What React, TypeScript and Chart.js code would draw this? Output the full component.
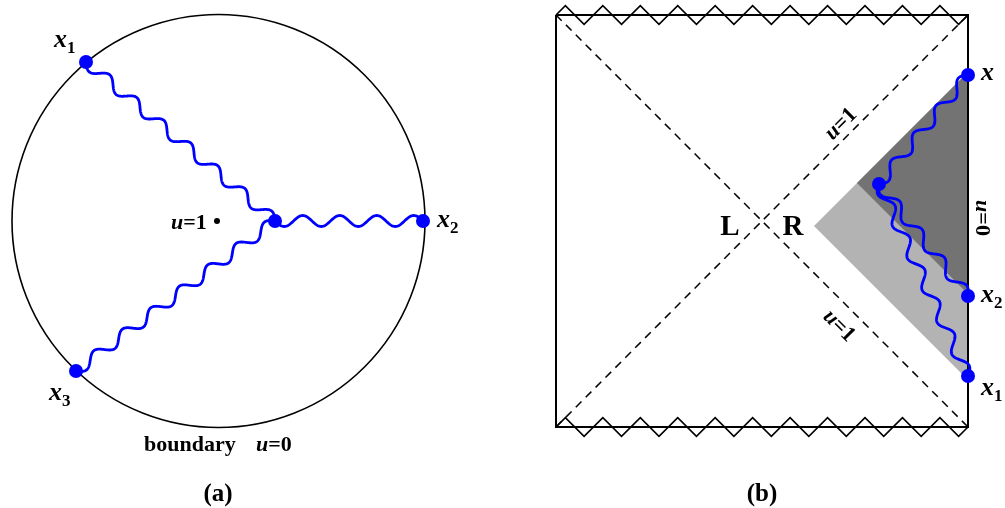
import React, { useEffect, useRef } from 'react';
import { Chart, registerables } from 'chart.js';

Chart.register(...registerables);

// ---------- Panel (a): disc with three boundary points ----------
const circleCenterX = 218.5;
const circleCenterY = 221;
const circleRadius = 206.5;
const aEndX = [86, 423, 76]; // x1, x2, x3
const aEndY = [62, 221, 371];
const aJunctionX = 275;
const aJunctionY = 221;
const aWavePeriods = [7, 4, 7];
const aMarkX = [217];
const aMarkY = [221];

// ---------- Panel (b): Penrose-like square ----------
const bSquareX = [556, 968, 968, 556, 556];
const bSquareY = [15, 15, 427, 427, 15];
const bDiagDownX = [556, 968];
const bDiagDownY = [15, 427];
const bDiagUpX = [556, 968];
const bDiagUpY = [427, 15];
const bLightX = [814, 968, 968, 814];
const bLightY = [226, 72, 380, 226];
const bDarkX = [857, 968, 968, 857];
const bDarkY = [183, 72, 294, 183];
const bEndX = [968, 968, 968]; // x, x2, x1
const bEndY = [75, 296, 376];
const bJunctionX = 879;
const bJunctionY = 184;
const bWavePeriods = [4, 4, 6];
const zigzagTeeth = 11;

type Part = { t: string; italic?: boolean; sub?: boolean };
type Note = { parts: Part[]; x: number; y: number; size: number; align: 'left' | 'center'; rot?: number };

const annotations: Note[] = [
  { parts: [{ t: 'x', italic: true }, { t: '1', sub: true }], x: 54, y: 47, size: 26, align: 'left' },
  { parts: [{ t: 'x', italic: true }, { t: '2', sub: true }], x: 437, y: 227, size: 26, align: 'left' },
  { parts: [{ t: 'x', italic: true }, { t: '3', sub: true }], x: 49, y: 400, size: 26, align: 'left' },
  { parts: [{ t: 'u', italic: true }, { t: '=1' }], x: 171, y: 229, size: 22, align: 'left' },
  { parts: [{ t: 'boundary' }], x: 144, y: 451, size: 22, align: 'left' },
  { parts: [{ t: 'u', italic: true }, { t: '=0' }], x: 256, y: 451, size: 22, align: 'left' },
  { parts: [{ t: '(a)' }], x: 218, y: 501, size: 25, align: 'center' },
  { parts: [{ t: 'x', italic: true }], x: 981, y: 80, size: 26, align: 'left' },
  { parts: [{ t: 'x', italic: true }, { t: '2', sub: true }], x: 981, y: 302, size: 26, align: 'left' },
  { parts: [{ t: 'x', italic: true }, { t: '1', sub: true }], x: 981, y: 395, size: 26, align: 'left' },
  { parts: [{ t: 'L' }], x: 730, y: 235, size: 29, align: 'center' },
  { parts: [{ t: 'R' }], x: 793, y: 235, size: 29, align: 'center' },
  { parts: [{ t: 'u', italic: true }, { t: '=1' }], x: 840, y: 123, size: 22, align: 'center', rot: -45 },
  { parts: [{ t: 'u', italic: true }, { t: '=1' }], x: 840, y: 325, size: 22, align: 'center', rot: 45 },
  { parts: [{ t: 'u', italic: true }, { t: '=0' }], x: 983, y: 218, size: 22, align: 'center', rot: 90 },
  { parts: [{ t: '(b)' }], x: 762, y: 501, size: 25, align: 'center' },
];

const FONT = '"Liberation Serif", "DejaVu Serif", serif';
const BLUE = 'rgb(0, 0, 255)';

const pts = (xs: number[], ys: number[]) => xs.map((x, i) => ({ x, y: ys[i] }));

function fontFor(p: Part, size: number) {
  const s = p.sub ? Math.round(size * 0.66) : size;
  return `${p.italic ? 'italic ' : ''}bold ${s}px ${FONT}`;
}

function drawRich(ctx: CanvasRenderingContext2D, n: Note, px: number, py: number) {
  ctx.save();
  ctx.fillStyle = '#000';
  ctx.textBaseline = 'alphabetic';
  ctx.textAlign = 'left';
  let total = 0;
  const widths = n.parts.map((p) => {
    ctx.font = fontFor(p, n.size);
    const w = ctx.measureText(p.t).width;
    total += w;
    return w;
  });
  ctx.translate(px, py);
  let x = 0;
  let yBase = 0;
  if (n.rot !== undefined) {
    ctx.rotate((n.rot * Math.PI) / 180);
    yBase = n.size * 0.33;
  }
  if (n.align === 'center') x = -total / 2;
  n.parts.forEach((p, i) => {
    ctx.font = fontFor(p, n.size);
    ctx.fillText(p.t, x, yBase + (p.sub ? n.size * 0.22 : 0));
    x += widths[i];
  });
  ctx.restore();
}

function drawWave(ctx: CanvasRenderingContext2D, x0: number, y0: number, x1: number, y1: number, periods: number, amp: number) {
  const dx = x1 - x0;
  const dy = y1 - y0;
  const L = Math.hypot(dx, dy);
  const nx = -dy / L;
  const ny = dx / L;
  const steps = Math.ceil(L * 2);
  ctx.beginPath();
  for (let i = 0; i <= steps; i++) {
    const t = i / steps;
    const s = amp * Math.sin(2 * Math.PI * periods * t);
    const X = x0 + dx * t + nx * s;
    const Y = y0 + dy * t + ny * s;
    if (i === 0) ctx.moveTo(X, Y);
    else ctx.lineTo(X, Y);
  }
  ctx.stroke();
}

function drawZigzag(ctx: CanvasRenderingContext2D, xa: number, xb: number, y: number, teeth: number) {
  const period = (xb - xa) / teeth;
  const amp = period / 4;
  ctx.beginPath();
  ctx.moveTo(xa, y);
  for (let k = 0; k < teeth; k++) {
    const base = xa + k * period;
    ctx.lineTo(base + period / 4, y - amp);
    ctx.lineTo(base + (3 * period) / 4, y + amp);
  }
  ctx.lineTo(xb, y);
  ctx.stroke();
}

const diagramPlugin = {
  id: 'diagram',
  beforeDatasetsDraw(chart: any) {
    const ctx: CanvasRenderingContext2D = chart.ctx;
    const sx = chart.scales.x;
    const sy = chart.scales.y;
    const cx = sx.getPixelForValue(circleCenterX);
    const cy = sy.getPixelForValue(circleCenterY);
    const r = sx.getPixelForValue(circleCenterX + circleRadius) - cx;
    ctx.save();
    ctx.strokeStyle = '#000';
    ctx.lineWidth = 1.6;
    ctx.beginPath();
    ctx.arc(cx, cy, r, 0, Math.PI * 2);
    ctx.stroke();
    ctx.lineWidth = 1.6;
    ctx.lineJoin = 'miter';
    const xa = sx.getPixelForValue(bSquareX[0]);
    const xb = sx.getPixelForValue(bSquareX[1]);
    drawZigzag(ctx, xa, xb, sy.getPixelForValue(bSquareY[0]), zigzagTeeth);
    drawZigzag(ctx, xa, xb, sy.getPixelForValue(bSquareY[2]), zigzagTeeth);
    ctx.restore();
  },
  beforeDatasetDraw(chart: any, args: any) {
    if (args.index !== 0) return;
    const ctx: CanvasRenderingContext2D = chart.ctx;
    const sx = chart.scales.x;
    const sy = chart.scales.y;
    ctx.save();
    ctx.strokeStyle = BLUE;
    ctx.lineWidth = 2.8;
    ctx.lineCap = 'round';
    ctx.lineJoin = 'round';
    const ajx = sx.getPixelForValue(aJunctionX);
    const ajy = sy.getPixelForValue(aJunctionY);
    aEndX.forEach((x, i) => {
      drawWave(ctx, sx.getPixelForValue(x), sy.getPixelForValue(aEndY[i]), ajx, ajy, aWavePeriods[i], 5.5);
    });
    const bjx = sx.getPixelForValue(bJunctionX);
    const bjy = sy.getPixelForValue(bJunctionY);
    bEndX.forEach((x, i) => {
      drawWave(ctx, sx.getPixelForValue(x), sy.getPixelForValue(bEndY[i]), bjx, bjy, bWavePeriods[i], 5.5);
    });
    ctx.restore();
  },
  afterDraw(chart: any) {
    const ctx: CanvasRenderingContext2D = chart.ctx;
    const sx = chart.scales.x;
    const sy = chart.scales.y;
    annotations.forEach((n) => drawRich(ctx, n, sx.getPixelForValue(n.x), sy.getPixelForValue(n.y)));
  },
};

export default function App() {
  const ref = useRef<HTMLCanvasElement | null>(null);
  useEffect(() => {
    document.body.style.margin = '0';
    const canvas = ref.current;
    if (!canvas) return;
    const chart = new Chart(canvas, {
      type: 'scatter',
      data: {
        datasets: [
          {
            data: [...pts(aEndX, aEndY), { x: aJunctionX, y: aJunctionY }, ...pts(bEndX, bEndY), { x: bJunctionX, y: bJunctionY }],
            pointRadius: 7,
            pointBackgroundColor: BLUE,
            pointBorderWidth: 0,
            showLine: false,
          },
          {
            data: pts(aMarkX, aMarkY),
            pointRadius: 3,
            pointBackgroundColor: '#000',
            pointBorderWidth: 0,
            showLine: false,
          },
          {
            data: pts(bSquareX, bSquareY),
            showLine: true,
            borderColor: '#000',
            borderWidth: 2,
            pointRadius: 0,
            fill: false,
          },
          {
            data: pts(bDiagDownX, bDiagDownY),
            showLine: true,
            borderColor: '#000',
            borderWidth: 1.5,
            borderDash: [8, 6],
            pointRadius: 0,
            fill: false,
          },
          {
            data: pts(bDiagUpX, bDiagUpY),
            showLine: true,
            borderColor: '#000',
            borderWidth: 1.5,
            borderDash: [8, 6],
            pointRadius: 0,
            fill: false,
          },
          {
            data: pts(bDarkX, bDarkY),
            showLine: true,
            borderWidth: 0,
            borderColor: 'rgba(0,0,0,0)',
            backgroundColor: '#737373',
            pointRadius: 0,
            fill: 'shape',
          },
          {
            data: pts(bLightX, bLightY),
            showLine: true,
            borderWidth: 0,
            borderColor: 'rgba(0,0,0,0)',
            backgroundColor: '#b3b3b3',
            pointRadius: 0,
            fill: 'shape',
          },
        ],
      },
      options: {
        animation: false,
        responsive: false,
        devicePixelRatio: 1,
        layout: { padding: 0, autoPadding: false },
        clip: false,
        plugins: { legend: { display: false }, tooltip: { enabled: false }, title: { display: false } },
        scales: {
          x: { type: 'linear', min: 0, max: 1005, display: false },
          y: { type: 'linear', min: 0, max: 508, reverse: true, display: false },
        },
      } as any,
      plugins: [diagramPlugin],
    });
    return () => chart.destroy();
  }, []);
  return <canvas ref={ref} width={1005} height={508} style={{ display: 'block' }} />;
}
